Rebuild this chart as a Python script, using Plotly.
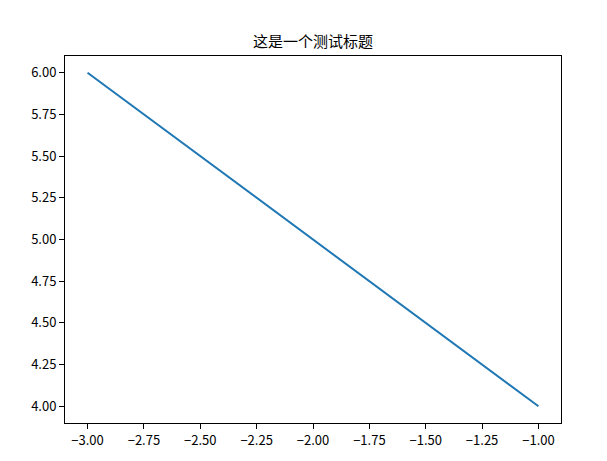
import plotly.graph_objects as go

x_vals = [-3, -1]
y_vals = [6, 4]
x_ticks = [-3.0, -2.75, -2.5, -2.25, -2.0, -1.75, -1.5, -1.25, -1.0]
y_ticks = [4.0, 4.25, 4.5, 4.75, 5.0, 5.25, 5.5, 5.75, 6.0]
title = "这是一个测试标题"

def fmt(v):
    s = f"{v:.2f}"
    return s.replace("-", "\u2212")

font = "Noto Sans CJK SC, DejaVu Sans, sans-serif"

# page body has an 8px margin, so the figure is sized/offset to compensate
W, H = 599, 453
L, R, T, B = 57, 46, 48, 36

fig = go.Figure(go.Scatter(x=x_vals, y=y_vals, mode="lines",
                           line=dict(color="#1f77b4", width=2)))
axis_common = dict(showgrid=False, zeroline=False, showline=True, linecolor="black",
                   linewidth=1, mirror=True, ticks="outside", ticklen=5, tickwidth=1,
                   tickcolor="black", tickfont=dict(family=font, size=13, color="black"))
fig.update_xaxes(range=[-3.1, -0.9], tickvals=x_ticks, ticktext=[fmt(v) for v in x_ticks],
                 **axis_common)
fig.update_yaxes(range=[3.9, 6.1], tickvals=y_ticks, ticktext=[fmt(v) for v in y_ticks],
                 **axis_common)
fig.update_layout(
    width=W, height=H,
    margin=dict(l=L, r=R, t=T, b=B),
    paper_bgcolor="white", plot_bgcolor="white",
    showlegend=False,
    title=dict(text=title, x=(L + (W - R)) / 2 / W, xanchor="center",
               y=1 - 34 / H, yanchor="middle",
               font=dict(family=font, size=15, color="black")),
)
fig.write_html("out.html")
